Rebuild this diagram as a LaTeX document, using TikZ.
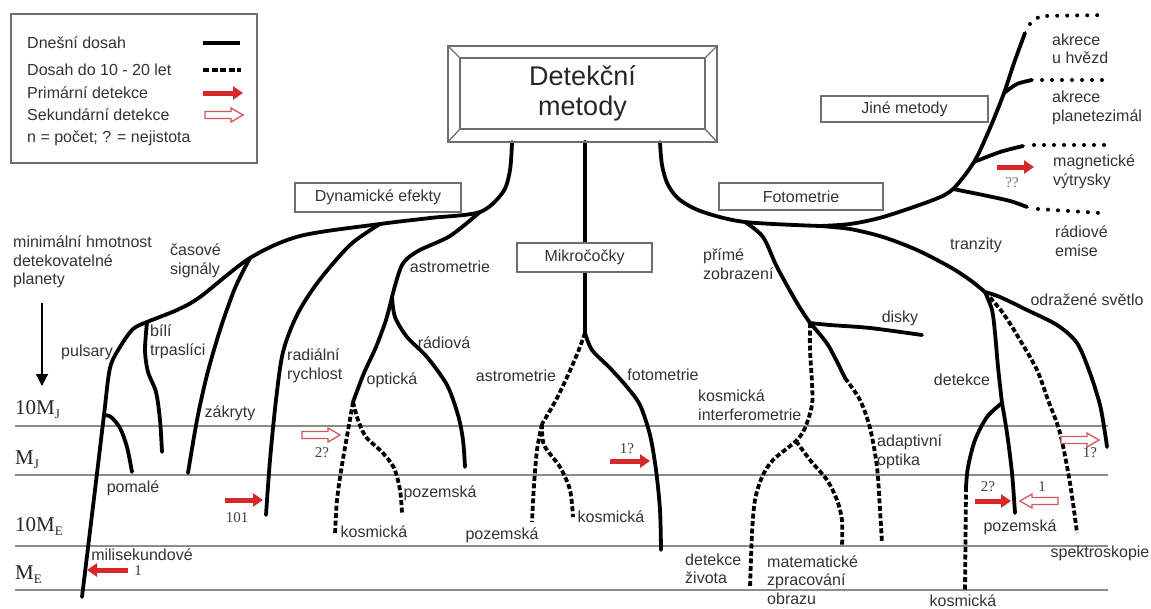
\documentclass[tikz,border=0pt]{standalone}
\usepackage{fontspec}
\setmainfont{Liberation Sans}
\newfontfamily\numfont{Liberation Serif}
\usetikzlibrary{arrows.meta}
\definecolor{arrred}{RGB}{214,40,40}
\definecolor{hollred}{RGB}{205,90,90}
\definecolor{framec}{RGB}{110,110,110}
\begin{document}
\begin{tikzpicture}[x=1pt,y=-1pt,
  branch/.style={line width=3.8pt, line cap=round, line join=round},
  future/.style={line width=3.8pt, dash pattern=on 5pt off 2.5pt},
  dots/.style={line width=4pt, line cap=round, dash pattern=on 0pt off 10pt},
  lbl/.style={font=\fontsize{16}{18.5}\selectfont, text=black!80, inner sep=0pt, align=left},
  num/.style={font=\numfont\fontsize{15}{15}\selectfont, text=black!75, inner sep=0pt},
  axislbl/.style={font=\numfont\fontsize{21}{21}\selectfont, text=black!85, inner sep=0pt, anchor=west},
  catbox/.style={draw=framec, line width=1.3pt, fill=white, inner sep=0pt, font=\fontsize{16}{18}\selectfont, text=black!80},
  gridline/.style={draw=black!45, line width=1.4pt},
  redarr/.style={draw=arrred, line width=5pt, -{Triangle[length=10pt,width=13pt]}},
  hollow/.pic={\draw[draw=hollred, line width=1.3pt, fill=white] (-38,-3.5) -- (-12,-3.5) -- (-12,-7) -- (0,0) -- (-12,7) -- (-12,3.5) -- (-38,3.5) -- cycle;},
]
\useasboundingbox[fill=white] (0,0) rectangle (1151,608);

% grid lines
\foreach \yy in {426,475,546,590} \draw[gridline] (15,\yy) -- (1108,\yy);

% axis labels
\node[axislbl] (ax1) at (15,410) {10M\raisebox{-4pt}{\fontsize{13}{13}\selectfont J}};
\node[axislbl] (ax2) at (15,460) {M\raisebox{-4pt}{\fontsize{13}{13}\selectfont J}};
\node[axislbl] (ax3) at (15,527) {10M\raisebox{-4pt}{\fontsize{13}{13}\selectfont E}};
\node[axislbl] (ax4) at (15,575) {M\raisebox{-4pt}{\fontsize{13}{13}\selectfont E}};
\coordinate (dA) at (42,303); \coordinate (dB) at (42,386);
\draw[line width=1.2pt, -{Triangle[length=12pt,width=12pt]}] (dA) -- (dB);

% ---------- left tree (dynamic effects)
\coordinate (M0) at (512,142);
\coordinate (A) at (480,212);
\coordinate (B) at (380,224);
\coordinate (C) at (250,258);
\coordinate (D) at (147,322);
\coordinate (E) at (104,415);
\coordinate (F) at (392,297);
\coordinate (G) at (353,402);
\draw[branch] plot[smooth] coordinates {(M0) (510,170) (503,192) (A) (430,218) (B) (300,236) (C) (200,297) (177,310) (D) (133,329) (120,347) (110,368) (E) (95,490) (82,597)};
\draw[branch] plot[smooth] coordinates {(E) (111,417) (120,428) (127,447) (132,472)};
\draw[branch] plot[smooth] coordinates {(D) (145,350) (148,372) (156,392) (160,420) (162,452)};
\draw[branch] plot[smooth] coordinates {(C) (235,288) (220,330) (207,375) (197,420) (188,473)};
\draw[branch] plot[smooth] coordinates {(B) (350,245) (318,282) (297,315) (283,352) (276,400) (270,460) (266,515)};
\draw[branch] plot[smooth] coordinates {(A) (450,236) (418,251) (402,265) (F)};
\draw[branch] plot[smooth] coordinates {(F) (386,320) (376,347) (364,373) (G)};
\draw[future] plot[smooth] coordinates {(G) (349,425) (342,465) (337,500) (335,535)};
\draw[future] plot[smooth] coordinates {(G) (358,420) (366,437) (382,452) (394,468) (400,490) (402,513)};
\draw[branch] plot[smooth] coordinates {(F) (395,317) (407,337) (427,357) (447,385) (458,415) (463,440) (465,467)};

% ---------- microlensing
\coordinate (M1) at (585,142);
\coordinate (H) at (585,333);
\coordinate (I) at (542,424);
\draw[branch] (M1) -- (H);
\draw[future] plot[smooth] coordinates {(H) (578,352) (568,375) (556,400) (I)};
\draw[future] plot[smooth] coordinates {(I) (537,450) (534,485) (532,522)};
\draw[future] plot[smooth] coordinates {(I) (544,445) (560,467) (570,490) (573,517)};
\draw[branch] plot[smooth] coordinates {(H) (592,350) (610,368) (627,387) (640,405) (650,435) (656,470) (660,510) (661,550)};

% ---------- right tree
\coordinate (M2) at (660,142);
\coordinate (J) at (745,222);
\coordinate (L) at (820,226);
\coordinate (K) at (810,323);
\coordinate (N) at (953,189);
\coordinate (O) at (974,162);
\coordinate (P) at (1004,93);
\coordinate (Q) at (985,292);
\coordinate (R) at (796,441);
\coordinate (S) at (1002,403);
\coordinate (T) at (1025,33);
\draw[branch] plot[smooth] coordinates {(M2) (662,165) (668,185) (680,200) (703,212) (J) (L)};
% other methods
\draw[branch] plot[smooth] coordinates {(L) (850,224) (883,217) (933,200) (N) (O) (990,128) (P) (1014,63) (T)};
\draw[branch] plot[smooth] coordinates {(N) (983,195) (1010,201) (1027,207)};
\draw[branch] plot[smooth] coordinates {(O) (1000,152) (1023,146)};
\draw[branch] plot[smooth] coordinates {(P) (1017,84) (1032,80)};
\draw[dots] (1030,24) -- (1040,16) -- (1107,15);
\draw[dots] (1042,80) -- (1107,80);
\draw[dots] (1034,145) -- (1107,145);
\draw[dots] (1038,209) -- (1100,213);
% transits
\draw[branch] plot[smooth] coordinates {(L) (850,229) (883,237) (917,250) (950,267) (970,280) (Q)};
\draw[branch] plot[smooth] coordinates {(Q) (1000,297) (1027,310) (1057,325) (1077,343) (1090,373) (1100,405) (1105,433) (1107,447)};
\draw[branch] plot[smooth] coordinates {(Q) (992,310) (995,333) (998,367) (S)};
\draw[branch] plot[smooth] coordinates {(S) (987,417) (975,440) (968,467) (966,487)};
\draw[future] (966,487) -- (965,592);
\draw[branch] plot[smooth] coordinates {(S) (1007,433) (1012,473) (1015,513)};
\draw[future] plot[smooth] coordinates {(Q) (1003,313) (1020,340) (1037,370) (1048,400) (1060,433) (1070,483) (1077,533)};
% direct imaging
\draw[branch] plot[smooth] coordinates {(J) (763,237) (777,267) (797,303) (K)};
\draw[branch] plot[smooth] coordinates {(K) (830,325) (870,328) (922,335)};
\draw[branch] plot[smooth] coordinates {(K) (828,345) (845,378)};
\draw[future] plot[smooth] coordinates {(845,378) (860,400) (870,428) (877,467) (880,510) (882,543)};
\draw[future] plot[smooth] coordinates {(K) (810,350) (812,383) (812,405) (805,428) (R) (773,460) (762,477) (755,500) (752,533) (750,588)};
\draw[future] plot[smooth] coordinates {(R) (810,460) (827,480) (837,500) (842,520) (842,547)};

% ---------- main title box
\draw[framec, line width=1.3pt] (448,46) rectangle (717,142);
\node[draw=framec, line width=1.3pt, minimum width=245pt, minimum height=71pt, inner sep=0pt, align=center, font=\fontsize{27}{30}\selectfont, text=black!85] (title) at (582.5,93.5) {Detekční\\metody};
\draw[framec, line width=1.3pt] (448,46) -- (title.north west) (717,46) -- (title.north east) (448,142) -- (title.south west) (717,142) -- (title.south east);

% category boxes
\node[catbox, minimum width=166pt, minimum height=29pt] (dyn) at (378,197.5) {Dynamické efekty};
\node[catbox, minimum width=164pt, minimum height=27pt] (fot) at (801,196.5) {Fotometrie};
\node[catbox, minimum width=135pt, minimum height=29pt] (mik) at (584.5,257.5) {Mikročočky};
\node[catbox, minimum width=167pt, minimum height=26pt] (jin) at (904.5,109) {Jiné metody};

% ---------- legend
\draw[framec, line width=1.3pt] (11,14) rectangle (257,163);
\node[lbl, anchor=west] (lg1) at (27,43) {Dnešní dosah};
\node[lbl, anchor=west] (lg2) at (27,70) {Dosah do 10 - 20 let};
\node[lbl, anchor=west] (lg3) at (27,93) {Primární detekce};
\node[lbl, anchor=west] (lg4) at (27,115) {Sekundární detekce};
\node[lbl, anchor=west] (lg5) at (27,138) {n = počet; ? = nejistota};
\draw[line width=3.8pt] (203,43) -- (240,43);
\draw[line width=3.8pt, dash pattern=on 6pt off 2.5pt] (203,70) -- (241,70);
\draw[redarr] (203,93) -- (243,93);
\pic at (243,115) {hollow};

% ---------- labels
\node[lbl, anchor=west] (l1) at (13,262) {minimální hmotnost\\detekovatelné\\planety};
\node[lbl, anchor=west] (l2) at (170,261) {časové\\signály};
\node[lbl] (l3) at (87,352) {pulsary};
\node[lbl, anchor=west] (l4) at (150,342) {bílí\\trpaslíci};
\node[lbl] (l5) at (230,413) {zákryty};
\node[lbl] (l6) at (133,488) {pomalé};
\node[lbl] (l7) at (142,555) {milisekundové};
\node[lbl, anchor=west] (l8) at (287,366) {radiální\\rychlost};
\node[lbl] (l9) at (450,267) {astrometrie};
\node[lbl] (l10) at (444,343) {rádiová};
\node[lbl] (l11) at (392,380) {optická};
\node[lbl] (l12) at (516,376) {astrometrie};
\node[lbl] (l13) at (663,375) {fotometrie};
\node[lbl] (l14) at (440,493) {pozemská};
\node[lbl] (l15) at (374,532) {kosmická};
\node[lbl] (l16) at (502,535) {pozemská};
\node[lbl] (l17) at (611,517) {kosmická};
\node[lbl, anchor=west] (l18) at (703,264) {přímé\\zobrazení};
\node[lbl] (l19) at (900,318) {disky};
\node[lbl, anchor=west] (l20) at (698,405) {kosmická\\interferometrie};
\node[lbl, anchor=west] (l21) at (877,452) {adaptivní\\optika};
\node[lbl, anchor=west] (l22) at (685,569) {detekce\\života};
\node[lbl, anchor=west] (l23) at (767,580) {matematické\\zpracování\\obrazu};
\node[lbl] (l24) at (976,245) {tranzity};
\node[lbl] (l25) at (1087,300) {odražené světlo};
\node[lbl] (l26) at (962,380) {detekce};
\node[lbl] (l27) at (1020,527) {pozemská};
\node[lbl] (l28) at (963,601) {kosmická};
\node[lbl] (l29) at (1100,553) {spektroskopie};
\node[lbl, anchor=west] (l30) at (1052,49) {akrece\\u hvězd};
\node[lbl, anchor=west] (l31) at (1052,108) {akrece\\planetezimál};
\node[lbl, anchor=west] (l32) at (1053,172) {magnetické\\výtrysky};
\node[lbl, anchor=west] (l33) at (1055,241) {rádiové\\emise};

% ---------- detection arrows
\draw[redarr] (225,500) -- (263,500);
\node[num] (n1) at (237,518) {101};
\draw[redarr] (128,570) -- (87,570);
\node[num] (n2) at (138,571) {1};
\pic at (340,435) {hollow};
\node[num] (n3) at (322,453) {2?};
\draw[redarr] (610,461) -- (650,461);
\node[num] (n4) at (627,449) {1?};
\draw[redarr] (975,501) -- (1011,501);
\node[num] (n5) at (988,487) {2?};
\pic[rotate=180] at (1020,501) {hollow};
\node[num] (n6) at (1042,487) {1};
\pic at (1099,440) {hollow};
\node[num] (n7) at (1090,453) {1?};
\draw[redarr] (997,167) -- (1034,167);
\node[num, text=black!55] (n8) at (1012,183) {??};
\end{tikzpicture}
\end{document}
